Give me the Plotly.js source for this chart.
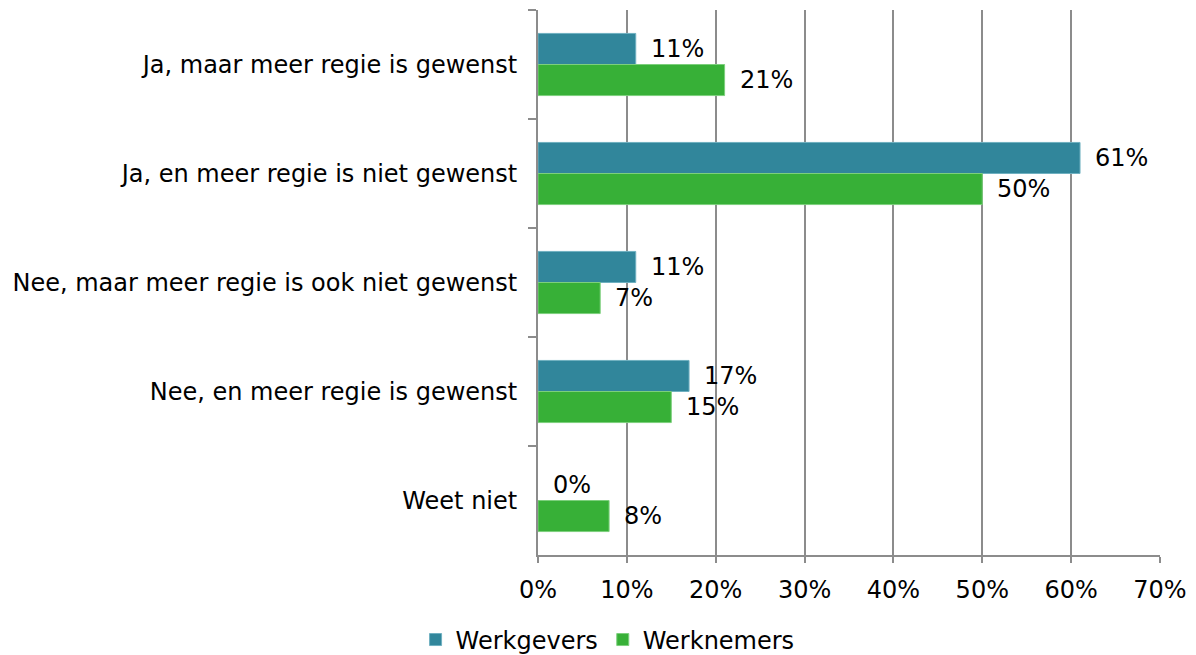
<!DOCTYPE html>
<html>
<head>
<meta charset="utf-8">
<script src="https://cdn.plot.ly/plotly-3.0.1.min.js"></script>
<style>html,body{margin:0;padding:0;background:#fff}#chart{width:1196px;height:655px}</style>
</head>
<body>
<div id="chart"></div>
<script>
const categories = [
  "Ja, maar meer regie is gewenst",
  "Ja, en meer regie is niet gewenst",
  "Nee, maar meer regie is ook niet gewenst",
  "Nee, en meer regie is gewenst",
  "Weet niet"
];
const werkgevers = [11, 61, 11, 17, 0];
const werknemers = [21, 50, 7, 15, 8];
const seriesNames = ["Werkgevers", "Werknemers"];
const xTickVals = [0, 10, 20, 30, 40, 50, 60, 70];
const xTickText = ["0%", "10%", "20%", "30%", "40%", "50%", "60%", "70%"];

const FONT = "DejaVu Sans, Verdana, sans-serif";
const FS = 24;
const colors = ["#31869b", "#37b037"];
const edge = ["#6fb0c0", "#7ccf7c"];
const offsets = [-0.143, 0.143];

const traces = [werkgevers, werknemers].map((vals, i) => ({
  type: "bar",
  orientation: "h",
  name: seriesNames[i],
  y: categories,
  x: vals,
  marker: {color: colors[i], line: {color: edge[i], width: vals.map(v => v ? 1 : 0)}},
  hoverinfo: "x+y"
}));

const annotations = [];
[werkgevers, werknemers].forEach((vals, i) => {
  vals.forEach((v, j) => {
    annotations.push({
      x: v, y: j + offsets[i], xref: "x", yref: "y",
      text: v + "%", showarrow: false, xanchor: "left", yanchor: "middle",
      xshift: 13, font: {family: FONT, size: FS, color: "#000"}
    });
  });
});

const layout = {
  width: 1196, height: 655,
  margin: {l: 538, r: 36, t: 10, b: 100},
  paper_bgcolor: "#fff", plot_bgcolor: "#fff",
  barmode: "group",
  bargap: 0.43, bargroupgap: 0,
  font: {family: FONT, size: FS, color: "#000"},
  xaxis: {
    range: [0, 70], tickvals: xTickVals, ticktext: xTickText,
    showgrid: true, gridcolor: "#8c8c8c", gridwidth: 2,
    zeroline: false, showline: true, linecolor: "#8c8c8c", linewidth: 2,
    ticks: "outside", ticklen: 6, tickcolor: "#8c8c8c", tickwidth: 2,
    ticklabelstandoff: 6,
    tickfont: {family: FONT, size: FS, color: "#000"}, fixedrange: true
  },
  yaxis: {
    autorange: "reversed", type: "category",
    showline: true, linecolor: "#8c8c8c", linewidth: 2,
    ticks: "outside", tickson: "boundaries", ticklen: 8, tickcolor: "#8c8c8c", tickwidth: 2,
    showgrid: false, zeroline: false, ticklabelstandoff: 14,
    tickfont: {family: FONT, size: FS, color: "#000"}, fixedrange: true
  },
  showlegend: true,
  legend: {
    orientation: "h", xref: "container", yref: "container",
    x: 0.508, xanchor: "center", y: 0.023, yanchor: "middle",
    font: {family: FONT, size: FS, color: "#000"}, traceorder: "normal"
  },
  annotations: annotations
};

Plotly.newPlot("chart", traces, layout, {displayModeBar: false, staticPlot: true});
</script>
</body>
</html>
